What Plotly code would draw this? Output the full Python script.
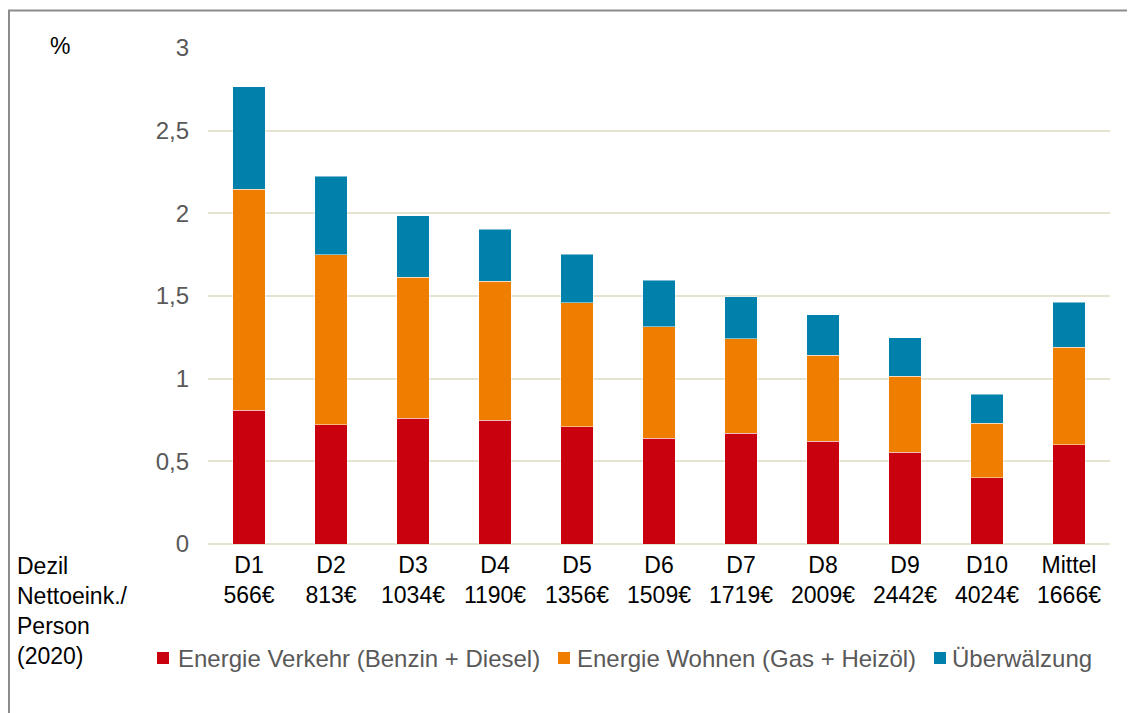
import plotly.graph_objects as go

# Deciles with net income per person (2020)
categories = ["D1<br>566€", "D2<br>813€", "D3<br>1034€", "D4<br>1190€", "D5<br>1356€",
              "D6<br>1509€", "D7<br>1719€", "D8<br>2009€", "D9<br>2442€", "D10<br>4024€",
              "Mittel<br>1666€"]

verkehr = [0.81, 0.72, 0.76, 0.75, 0.71, 0.64, 0.67, 0.62, 0.555, 0.40, 0.60]
wohnen = [1.337, 1.03, 0.853, 0.839, 0.75, 0.674, 0.571, 0.522, 0.459, 0.329, 0.591]
ueberwaelzung = [0.618, 0.474, 0.373, 0.315, 0.292, 0.28, 0.256, 0.244, 0.232, 0.177, 0.27]

series_names = ["Energie Verkehr (Benzin + Diesel)", "Energie Wohnen (Gas + Heizöl)", "Überwälzung"]
series_colors = ["#C9000E", "#EE7D00", "#0081AB"]

y_ticks = [0, 0.5, 1, 1.5, 2, 2.5, 3]

FONT = "Liberation Sans, Arial, sans-serif"
GREY = "#595959"

# the page body adds an 8px offset, so the figure is laid out 8px up/left
W, H = 1135, 713
L, R, T, B = 200, 33, 40, 177
PW, PH = W - L - R, H - T - B


def px(x):
    return (x - L) / PW


def py(y):
    return (H - B - y) / PH


fig = go.Figure()
for name, vals, color in zip(series_names, [verkehr, wohnen, ueberwaelzung], series_colors):
    fig.add_trace(go.Bar(
        x=categories, y=vals, name=name,
        marker=dict(color=color, line=dict(color="rgba(255,255,255,0.6)", width=0.8)),
    ))

fig.update_layout(
    barmode="stack",
    bargap=0.6,
    width=W, height=H,
    margin=dict(l=L, r=R, t=T, b=B),
    paper_bgcolor="white", plot_bgcolor="white",
    separators=",.",
    font=dict(family=FONT, size=23, color=GREY),
    showlegend=False,
    xaxis=dict(
        tickfont=dict(family=FONT, size=23, color="black"),
        showgrid=False, ticks="", showline=False, ticklabelstandoff=5,
    ),
    yaxis=dict(
        range=[0, 3], tickvals=y_ticks,
        showgrid=True, gridcolor="#E6E3D0", gridwidth=2,
        zeroline=True, zerolinecolor="#E6E3D0", zerolinewidth=2,
        tickfont=dict(family=FONT, size=24, color=GREY),
        ticks="", ticklabelstandoff=18,
    ),
)

fig.add_annotation(
    text="%", xref="paper", yref="paper", x=px(52), y=py(38),
    showarrow=False, font=dict(family=FONT, size=23, color="black"),
    xanchor="center", yanchor="middle",
)
fig.add_annotation(
    text="Dezil<br>Nettoeink./<br>Person<br>(2020)", xref="paper", yref="paper",
    x=px(7), y=py(543), xanchor="left", yanchor="top", align="left",
    showarrow=False, font=dict(family=FONT, size=23, color="black"),
)

# legend drawn by hand to match the original spacing
legend_square_x = [149, 550, 926]
legend_text_x = [168, 567, 942]
legend_y = 650
for name, color, sx, tx in zip(series_names, series_colors, legend_square_x, legend_text_x):
    fig.add_shape(
        type="rect", xref="paper", yref="paper",
        x0=px(sx), x1=px(sx + 12), y0=py(legend_y + 6), y1=py(legend_y - 6),
        fillcolor=color, line=dict(width=0),
    )
    fig.add_annotation(
        text=name, xref="paper", yref="paper", x=px(tx), y=py(legend_y),
        xanchor="left", yanchor="middle", showarrow=False,
        font=dict(family=FONT, size=24, color=GREY),
    )

# outer frame (only left and top edges are visible)
fig.add_shape(
    type="rect", xref="paper", yref="paper",
    x0=px(1), x1=px(W + 20), y0=py(H + 20), y1=py(2.5),
    line=dict(color="#8C8C8C", width=2), fillcolor="rgba(0,0,0,0)", layer="below",
)

fig.write_html("out.html")
